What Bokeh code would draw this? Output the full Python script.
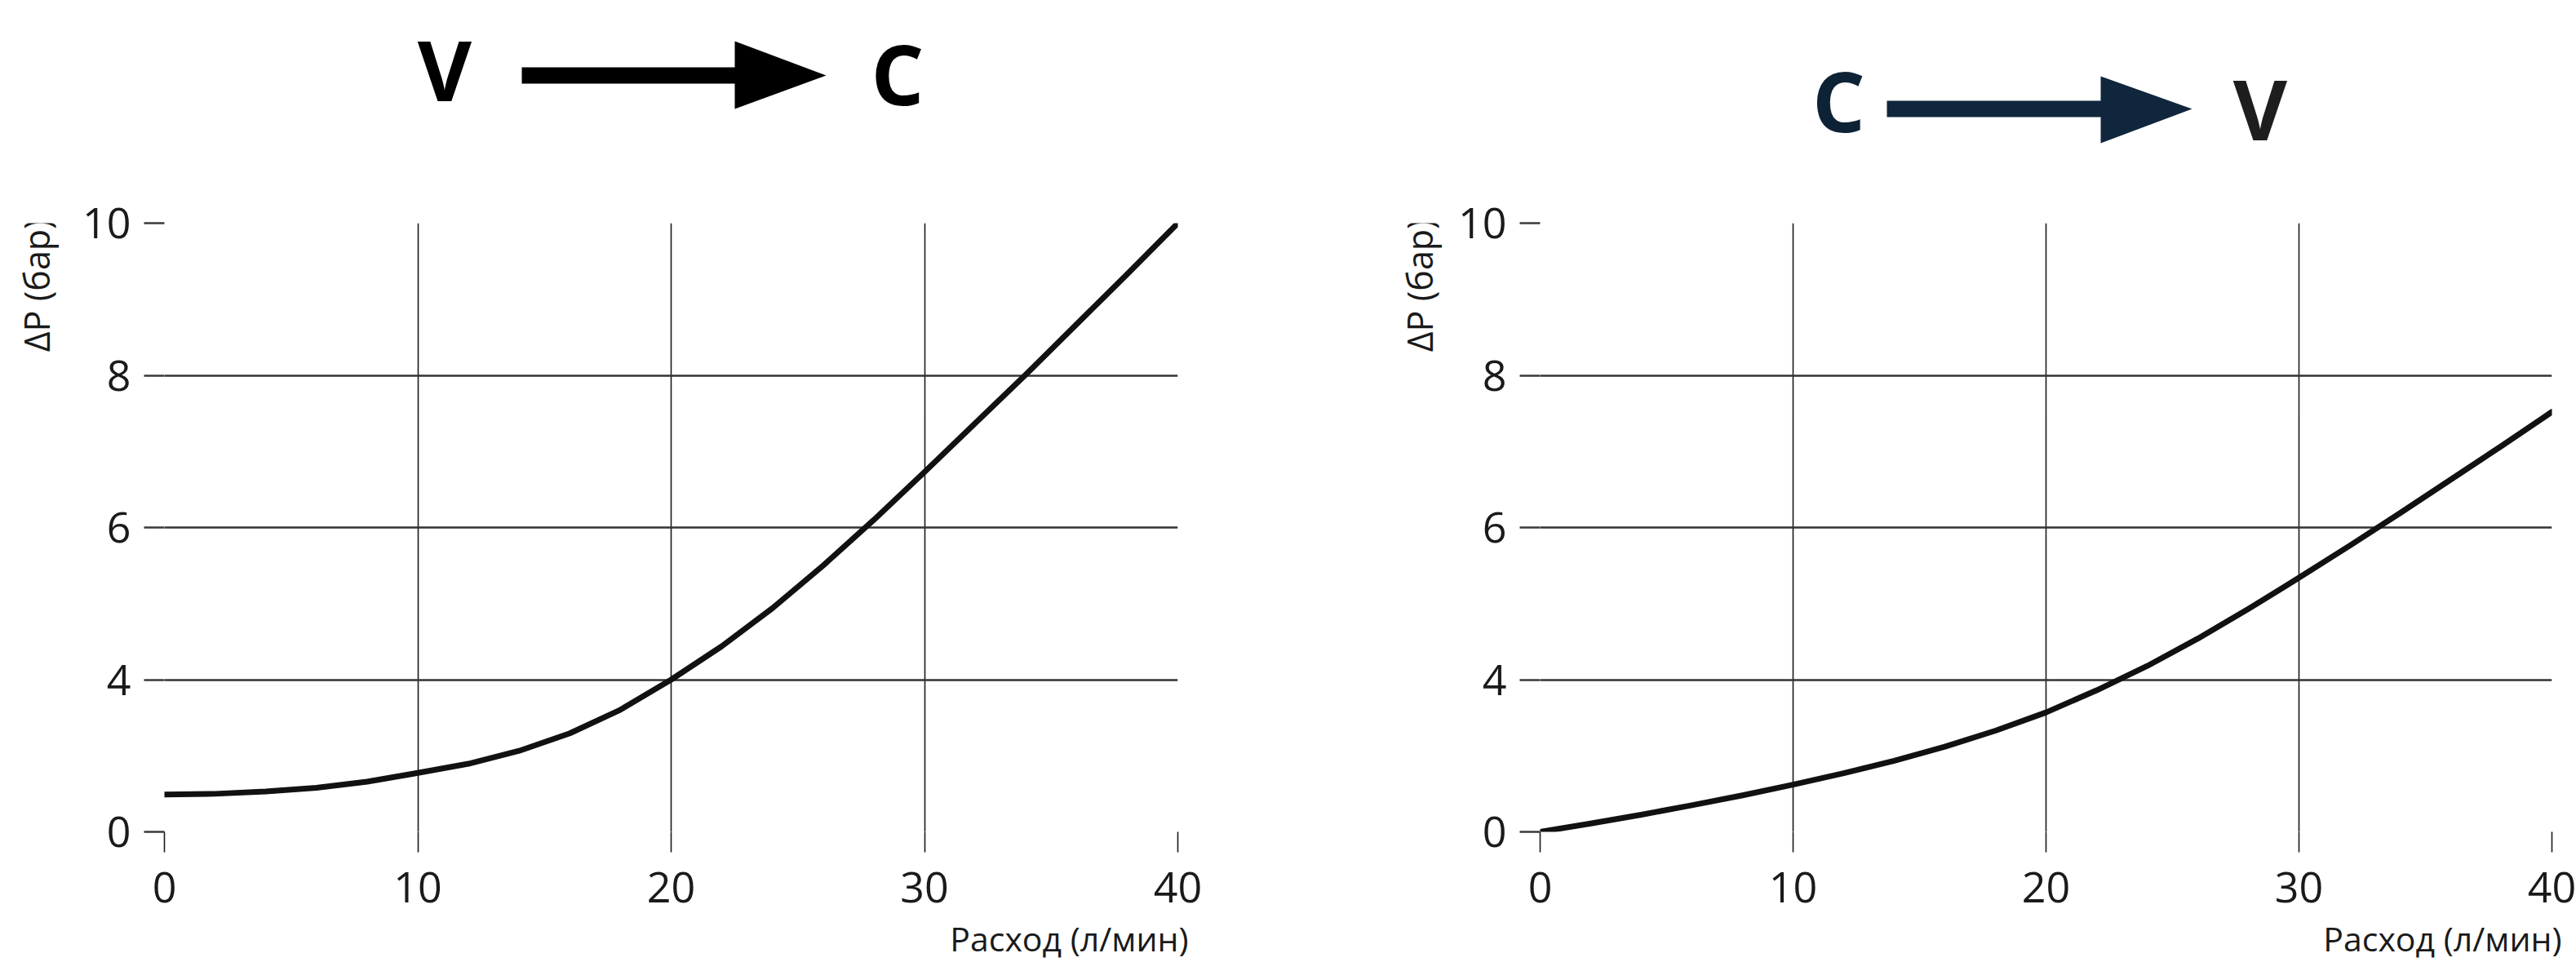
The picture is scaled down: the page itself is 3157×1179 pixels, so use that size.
import numpy as np
from bokeh.plotting import figure
from bokeh.models import FixedTicker, Range1d
from bokeh.layouts import column, row
from bokeh.embed import file_html
from bokeh.resources import INLINE
from bokeh.core.properties import value

# ---------------- data ----------------
flow_v_to_c = [0, 2, 4, 6, 8, 10, 12, 14, 16, 18, 20, 22, 24, 26, 28, 30, 32, 34, 36, 38, 40]
dp_v_to_c = [0.98, 1.0, 1.06, 1.16, 1.32, 1.55, 1.79, 2.13, 2.59, 3.21, 4.0,
             4.44, 4.94, 5.5, 6.1, 6.73, 7.37, 8.01, 8.67, 9.33, 10.0]

flow_c_to_v = [0, 2, 4, 6, 8, 10, 12, 14, 16, 18, 20, 22, 24, 26, 28, 30, 32, 34, 36, 38, 40]
dp_c_to_v = [0.0, 0.22, 0.45, 0.70, 0.96, 1.24, 1.54, 1.87, 2.24, 2.66, 3.14,
             3.72, 4.18, 4.54, 4.93, 5.34, 5.76, 6.19, 6.63, 7.07, 7.52]

flow_ticks = [0, 10, 20, 30, 40]
dp_tick_labels = [0, 4, 6, 8, 10]          # labels printed on the (evenly spaced) y grid lines
x_axis_title = "Расход (л/мин)"
y_axis_title = "ΔP (бар)"
title_left = ("V", "C")
title_right = ("C", "V")

# ---------------- layout / style ----------------
FONT = "Open Sans"
TOTAL_W = 3157
TOTAL_H = 1179
HEADER_H = 210
FOOTER_H = 59
ROW_H = TOTAL_H - HEADER_H - FOOTER_H      # 910
FRAME_TOP = 273
FRAME_H = 746
YT_L_W = 90                                # strip holding the left y title
YT_R_W = 202                               # strip holding the right y title
CHART_L_W = 1568 - YT_L_W
CHART_R_W = TOTAL_W - 1568 - YT_R_W
BASE = 0.40                                # glyph baseline shift (fraction of font size)

dp_tick_pos = list(range(len(dp_tick_labels)))


def blank(width, height):
    f = figure(width=width, height=height,
               x_range=Range1d(0, width), y_range=Range1d(height, 0),
               output_backend="svg", toolbar_location=None,
               x_axis_location=None, y_axis_location=None, min_border=0)
    f.grid.visible = False
    f.outline_line_color = None
    return f


def make_chart(flow, dp, width, border_left, border_right):
    top = FRAME_TOP - HEADER_H
    p = figure(width=width, height=ROW_H,
               x_range=Range1d(0, 40), y_range=Range1d(0, dp_tick_pos[-1]),
               output_backend="svg", toolbar_location=None,
               min_border_left=border_left, min_border_right=border_right,
               min_border_top=top, min_border_bottom=ROW_H - top - FRAME_H)
    p.outline_line_color = None

    p.xaxis.ticker = FixedTicker(ticks=flow_ticks)
    p.yaxis.ticker = FixedTicker(ticks=dp_tick_pos)
    p.yaxis.major_label_overrides = {t: str(l) for t, l in zip(dp_tick_pos, dp_tick_labels)}

    for ax in (p.xaxis[0], p.yaxis[0]):
        ax.axis_line_color = None
        ax.major_tick_in = 0
        ax.major_tick_out = 25
        ax.minor_tick_line_color = None
        ax.major_label_text_font = FONT
        ax.major_label_text_font_size = "52px"
        ax.major_label_text_color = "#1a1a1a"

    p.xaxis.major_tick_line_width = 1.6
    p.xaxis.major_tick_line_color = "#1a1a1a"
    p.yaxis.major_tick_line_width = 2.5
    p.yaxis.major_tick_line_color = "#3a3a3a"
    p.xaxis.major_label_standoff = 24
    p.yaxis.major_label_standoff = 16

    p.xgrid.grid_line_color = "#1a1a1a"
    p.xgrid.grid_line_width = 1.6
    p.ygrid.grid_line_color = "#333333"
    p.ygrid.grid_line_width = 2.6

    y_pos = np.interp(dp, dp_tick_labels, dp_tick_pos)
    p.line(flow, y_pos, line_width=7, line_color="#111111",
           line_join="round", line_cap="round")
    return p


chart_left = make_chart(flow_v_to_c, dp_v_to_c, CHART_L_W, 201 - YT_L_W, 125)
chart_right = make_chart(flow_c_to_v, dp_c_to_v, CHART_R_W, 1887 - 1568 - YT_R_W, 30)


# ---------------- y axis titles (near the top of the axis, rotated) ----------------
def y_title(width, baseline_x):
    f = blank(width, ROW_H)
    size = 43
    f.text(x=[baseline_x - BASE * size], y=[303 - HEADER_H], text=[y_axis_title],
           angle=np.pi / 2, text_font=value(FONT), text_font_size=f"{size}px",
           text_align="center", text_baseline="alphabetic", text_color="#1a1a1a")
    return f


yt_left = y_title(YT_L_W, 61)
yt_right = y_title(YT_R_W, 1756 - 1568)

# ---------------- x axis titles (right aligned, under the tick labels) ----------------
footer = blank(TOTAL_W, FOOTER_H)
for x_end in (1456, 3139):
    size = 41
    footer.text(x=[x_end], y=[1166 - TOTAL_H + FOOTER_H - BASE * size], text=[x_axis_title],
                text_font=value(FONT), text_font_size=f"{size}px",
                text_align="right", text_baseline="alphabetic", text_color="#1a1a1a")

# ---------------- header with the direction arrows ----------------
hdr = blank(TOTAL_W, HEADER_H)


def direction(p, a, b, xa, base_a, xb, base_b, shaft, head, color_a, color_arrow, color_b):
    size = 102
    for t, x, bl, c in ((a, xa, base_a, color_a), (b, xb, base_b, color_b)):
        p.text(x=[x], y=[bl - BASE * size], text=[t], text_font=value(FONT),
               text_font_style="bold", text_font_size=f"{size}px",
               text_align="center", text_baseline="alphabetic", text_color=c)
    l, r, t, bt = shaft
    p.quad(left=[l], right=[r], top=[t], bottom=[bt], fill_color=color_arrow, line_color=None)
    p.patch(x=head[0], y=head[1], fill_color=color_arrow, line_color=None)


direction(hdr, title_left[0], title_left[1], 544.5, 125, 1099.5, 130,
          (639, 901, 82, 102), ([900, 900, 1012], [50, 133, 92]),
          "#000000", "#000000", "#000000")
direction(hdr, title_right[0], title_right[1], 2253, 163, 2769.5, 173,
          (2312, 2575, 123, 143), ([2574, 2574, 2686], [93, 175, 133]),
          "#0e2236", "#10263c", "#1e1e1e")

layout = column(hdr, row(yt_left, chart_left, yt_right, chart_right), footer)

with open("out.html", "w") as f:
    f.write(file_html(layout, INLINE))
